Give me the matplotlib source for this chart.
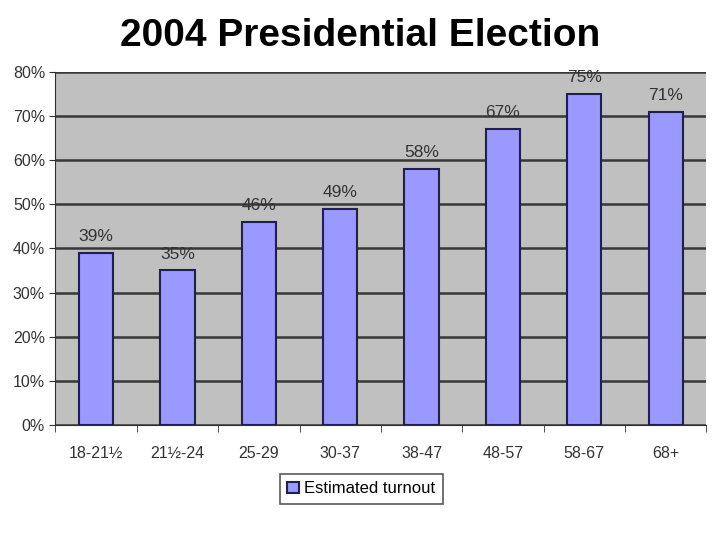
import matplotlib.pyplot as plt
import numpy as np

plt.rcParams['font.family'] = ['Liberation Sans', 'DejaVu Sans']

age_groups = ["18-21½", "21½-24", "25-29", "30-37", "38-47", "48-57", "58-67", "68+"]
turnout = [39, 35, 46, 49, 58, 67, 75, 71]
yticks = [0, 10, 20, 30, 40, 50, 60, 70, 80]

fig = plt.figure(figsize=(7.2, 5.4), dpi=100)
fig.text(0.5, 0.934, "2004 Presidential Election", ha='center', va='center',
         fontsize=28, fontweight='bold', color='black')

ax = fig.add_axes([0.077, 0.213, 0.904, 0.654])
ax.set_facecolor('#c0c0c0')
x = np.arange(len(age_groups))
bars = ax.bar(x, turnout, width=0.42, color='#9999ff', edgecolor='#202050',
              linewidth=1.5, label='Estimated turnout', zorder=3)
for xi, v in zip(x, turnout):
    ax.text(xi, v + 2.0, f"{v}%", ha='center', va='bottom', fontsize=12.5, color='#333333')

ax.set_ylim(0, 80)
ax.set_xlim(-0.5, len(age_groups) - 0.5)
ax.set_yticks(yticks)
ax.set_yticklabels([f"{t}%" for t in yticks], fontsize=11.5, color='#333333')
ax.yaxis.grid(True, color='#383838', linewidth=1.8, zorder=1)
ax.set_axisbelow(True)

ax.set_xticks(x)
ax.set_xticklabels(age_groups, fontsize=11.5, color='#333333')
ax.tick_params(axis='x', length=0, pad=15)
ax.set_xticks(np.arange(-0.5, len(age_groups)), minor=True)
ax.tick_params(axis='x', which='minor', length=5, direction='out', color='#303030')
ax.tick_params(axis='y', length=4, color='#303030')

for side in ['top', 'right']:
    ax.spines[side].set_visible(False)
ax.spines['left'].set_color('#303030')
ax.spines['bottom'].set_color('#303030')

leg = ax.legend(loc='upper center', bbox_to_anchor=(0.47, -0.115), fontsize=12,
                frameon=True, fancybox=False, edgecolor='#303030',
                handlelength=0.7, handleheight=0.7, handletextpad=0.3,
                borderpad=0.45)
leg.get_frame().set_linewidth(1.2)

fig.savefig('out.png', dpi=100)
